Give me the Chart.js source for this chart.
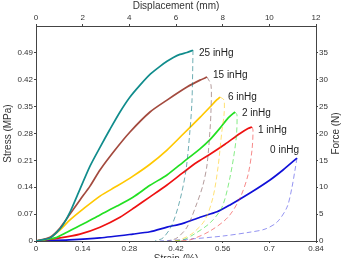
<!DOCTYPE html>
<html>
<head>
<meta charset="utf-8">
<script src="https://cdn.jsdelivr.net/npm/chart.js@4"></script>
<style>
  html, body { margin: 0; padding: 0; background: #fff; overflow: hidden; }
  #wrap { width: 342px; height: 266px; }
</style>
</head>
<body>
<div id="wrap"><canvas id="stress-chart" width="342" height="266"></canvas></div>
<script>
// tick labels
const strainTicks = [0, 0.14, 0.28, 0.42, 0.56, 0.7, 0.84];
const displacementTicks = [0, 2, 4, 6, 8, 10, 12];
const stressTicks = [0, 0.07, 0.14, 0.21, 0.28, 0.35, 0.42, 0.49];
const forceTicks = [0, 5, 10, 15, 20, 25, 30, 35];

const pressureLabels = ["25 inHg", "15 inHg", "6 inHg", "2 inHg", "1 inHg", "0 inHg"];

// loading curves (strain, stress)
const load25Strain = [0, 0.042, 0.063, 0.081, 0.102, 0.123, 0.162, 0.192, 0.222, 0.252, 0.282, 0.312, 0.342, 0.372, 0.393, 0.412, 0.432, 0.453, 0.471];
const load25Stress = [0, 0.008, 0.023, 0.042, 0.075, 0.117, 0.195, 0.244, 0.291, 0.336, 0.375, 0.406, 0.434, 0.455, 0.468, 0.478, 0.486, 0.491, 0.497];
const load15Strain = [0, 0.042, 0.072, 0.102, 0.132, 0.162, 0.192, 0.237, 0.282, 0.342, 0.393, 0.453, 0.492, 0.513];
const load15Stress = [0, 0.010, 0.034, 0.070, 0.107, 0.143, 0.185, 0.237, 0.284, 0.336, 0.367, 0.401, 0.419, 0.427];
const load6Strain = [0, 0.042, 0.072, 0.102, 0.141, 0.192, 0.243, 0.291, 0.342, 0.393, 0.441, 0.492, 0.522, 0.543, 0.552];
const load6Stress = [0, 0.008, 0.029, 0.055, 0.083, 0.117, 0.143, 0.169, 0.200, 0.237, 0.278, 0.322, 0.349, 0.368, 0.375];
const load2Strain = [0, 0.057, 0.093, 0.141, 0.192, 0.243, 0.291, 0.342, 0.393, 0.441, 0.492, 0.522, 0.552, 0.576, 0.597];
const load2Stress = [0, 0.008, 0.023, 0.044, 0.068, 0.091, 0.114, 0.145, 0.172, 0.205, 0.240, 0.264, 0.294, 0.320, 0.336];
const load1Strain = [0, 0.072, 0.132, 0.192, 0.252, 0.297, 0.342, 0.393, 0.441, 0.483, 0.522, 0.567, 0.612, 0.636, 0.648];
const load1Stress = [0, 0.008, 0.018, 0.036, 0.062, 0.088, 0.115, 0.146, 0.178, 0.205, 0.226, 0.252, 0.280, 0.293, 0.297];
const load0Strain = [0, 0.10, 0.192, 0.291, 0.342, 0.393, 0.441, 0.492, 0.543, 0.582, 0.642, 0.702, 0.741, 0.783];
const load0Stress = [0, 0.003, 0.008, 0.018, 0.024, 0.036, 0.046, 0.062, 0.076, 0.094, 0.125, 0.159, 0.185, 0.216];

// unloading curves (dashed)
const unload25Strain = [0.471, 0.468, 0.462, 0.450, 0.432, 0.408, 0.381, 0.357];
const unload25Stress = [0.497, 0.367, 0.289, 0.185, 0.107, 0.042, 0.008, 0];
const unload15Strain = [0.513, 0.525, 0.525, 0.522, 0.513, 0.501, 0.483, 0.453, 0.423, 0.396];
const unload15Stress = [0.427, 0.406, 0.341, 0.289, 0.198, 0.146, 0.099, 0.036, 0.008, 0];
const unload6Strain = [0.552, 0.564, 0.564, 0.558, 0.546, 0.531, 0.507, 0.471, 0.432, 0.408];
const unload6Stress = [0.375, 0.367, 0.328, 0.289, 0.192, 0.114, 0.055, 0.021, 0.003, 0];
const unload2Strain = [0.597, 0.603, 0.600, 0.582, 0.558, 0.522, 0.471, 0.441, 0.417];
const unload2Stress = [0.336, 0.328, 0.263, 0.166, 0.088, 0.047, 0.016, 0.003, 0];
const unload1Strain = [0.648, 0.651, 0.648, 0.636, 0.612, 0.576, 0.522, 0.462, 0.426];
const unload1Stress = [0.297, 0.289, 0.237, 0.172, 0.112, 0.062, 0.026, 0.003, 0];
const unload0Strain = [0.783, 0.777, 0.768, 0.753, 0.723, 0.687, 0.642, 0.561, 0.462, 0.372];
const unload0Stress = [0.216, 0.185, 0.140, 0.088, 0.049, 0.031, 0.023, 0.013, 0.005, 0];

const loadStrain = [load25Strain, load15Strain, load6Strain, load2Strain, load1Strain, load0Strain];
const loadStress = [load25Stress, load15Stress, load6Stress, load2Stress, load1Stress, load0Stress];
const unloadStrain = [unload25Strain, unload15Strain, unload6Strain, unload2Strain, unload1Strain, unload0Strain];
const unloadStress = [unload25Stress, unload15Stress, unload6Stress, unload2Stress, unload1Stress, unload0Stress];

const lineColors = ["#108c8c", "#a34a3e", "#ffc800", "#22e022", "#ee1111", "#1010d8"];
const dashColors = ["rgba(16,120,130,0.6)", "rgba(130,90,90,0.6)", "rgba(255,200,0,0.55)", "rgba(34,220,34,0.55)", "rgba(238,40,40,0.55)", "rgba(60,60,230,0.55)"];
// label offset in px from peak point, and alignment
const labelOffsets = [[6, 3, "left"], [6, -2, "left"], [8, 0, "left"], [7, 1, "left"], [6, 3, "left"], [2, -8, "right"]];

const FONT = "'Liberation Sans', Arial, sans-serif";

function toPoints(xs, ys) {
    return xs.map((x, i) => ({x: x, y: ys[i]}));
}

let datasets = [];
for (let i = 0; i < pressureLabels.length; i++) {
    datasets.push({
        label: pressureLabels[i],
        data: toPoints(loadStrain[i], loadStress[i]),
        borderColor: lineColors[i],
        borderWidth: 1.7,
        tension: 0.25,
        pointRadius: 0,
        showLine: true,
        xAxisID: "x",
        yAxisID: "y"
    });
    datasets.push({
        label: pressureLabels[i] + " unload",
        data: toPoints(unloadStrain[i], unloadStress[i]),
        borderColor: dashColors[i],
        borderWidth: 1,
        borderDash: [5, 3],
        tension: 0.3,
        pointRadius: 0,
        showLine: true,
        xAxisID: "x",
        yAxisID: "y"
    });
}

function fixedTicks(list) {
    return function (scale) {
        scale.ticks = list.map(v => ({value: v}));
    };
}

// label from the tick list, hidden if not in it
function labelFrom(list) {
    return function (v) {
        const hit = list.find(t => Math.abs(t - v) < 1e-6);
        return hit === undefined ? null : String(hit);
    };
}

function axisStyle(list, step) {
    return {
        border: {display: true, color: "#444", width: 1},
        grid: {drawOnChartArea: false, drawTicks: true, tickLength: 2, color: "#444"},
        ticks: {
            font: {family: FONT, size: 8}, color: "#333", padding: 1,
            autoSkip: false, maxRotation: 0, stepSize: step,
            callback: labelFrom(list)
        },
        afterBuildTicks: fixedTicks(list)
    };
}

const labelsPlugin = {
    id: "inlineLabels",
    afterDraw(chart) {
        const ctx = chart.ctx;
        const xs = chart.scales.x, ys = chart.scales.y;
        ctx.save();
        ctx.fillStyle = "#222";
        ctx.font = "10px " + FONT;
        ctx.textBaseline = "middle";
        for (let i = 0; i < pressureLabels.length; i++) {
            const n = loadStrain[i].length - 1;
            const px = xs.getPixelForValue(loadStrain[i][n]);
            const py = ys.getPixelForValue(loadStress[i][n]);
            ctx.textAlign = labelOffsets[i][2];
            ctx.fillText(pressureLabels[i], px + labelOffsets[i][0], py + labelOffsets[i][1]);
        }
        // axis titles
        const a = chart.chartArea;
        const midY = (a.top + a.bottom) / 2;
        const midX = (a.left + a.right) / 2;
        ctx.fillStyle = "#333";
        ctx.textAlign = "center";
        ctx.fillText("Displacement (mm)", midX, 6);
        ctx.fillText("Strain (%)", midX, 259);
        ctx.save();
        ctx.translate(8, midY);
        ctx.rotate(-Math.PI / 2);
        ctx.fillText("Stress (MPa)", 0, 0);
        ctx.restore();
        ctx.save();
        ctx.translate(336, midY);
        ctx.rotate(-Math.PI / 2);
        ctx.fillText("Force (N)", 0, 0);
        ctx.restore();
        ctx.restore();
    }
};

new Chart(document.getElementById("stress-chart"), {
    type: "scatter",
    data: {datasets: datasets},
    options: {
        responsive: false,
        animation: false,
        layout: {padding: 0},
        plugins: {legend: {display: false}, tooltip: {enabled: false}},
        scales: {
            x: Object.assign(axisStyle(strainTicks, 0.14), {
                type: "linear", position: "bottom", min: 0, max: 0.84,
                afterFit(scale) { scale.height = 25; }
            }),
            x2: Object.assign(axisStyle(displacementTicks, 2), {
                type: "linear", position: "top", min: 0, max: 12,
                afterFit(scale) { scale.height = 26; }
            }),
            y: Object.assign(axisStyle(stressTicks, 0.07), {
                type: "linear", position: "left", min: 0, max: 0.56,
                afterFit(scale) { scale.width = 36; }
            }),
            y2: Object.assign(axisStyle(forceTicks, 5), {
                type: "linear", position: "right", min: 0, max: 40,
                afterFit(scale) { scale.width = 26; }
            })
        }
    },
    plugins: [labelsPlugin]
});
</script>
</body>
</html>
